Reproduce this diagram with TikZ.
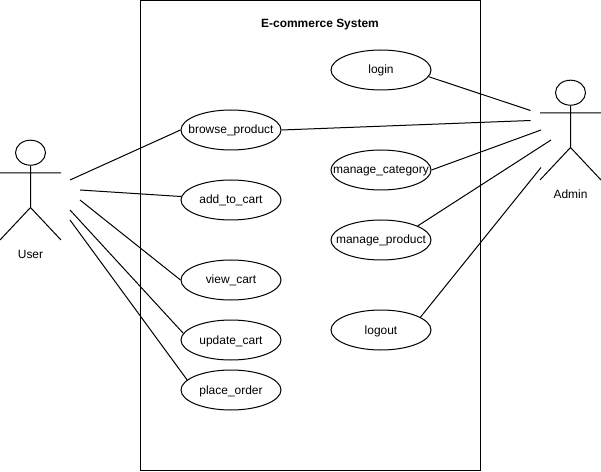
\documentclass[tikz,border=0pt]{standalone}
\usepackage{fontspec}
\setmainfont{Liberation Sans}
\usetikzlibrary{shapes.geometric}
\tikzset{
 uc/.style={draw,ellipse,minimum width=100bp,minimum height=40bp,inner xsep=-16bp,inner ysep=0pt,text height=10bp,text depth=2bp,font=\fontsize{12}{14}\selectfont},
 lbl/.style={font=\fontsize{12}{14}\selectfont,inner sep=0pt},
 ttl/.style={font=\fontsize{12}{14}\selectfont\bfseries,inner sep=0pt},
 head/.style={draw,ellipse,minimum width=30bp,minimum height=25bp,inner sep=0pt}
}
\begin{document}
\begin{tikzpicture}[x=1bp,y=-1bp,line width=1bp]
\useasboundingbox (0,0) rectangle (601,472);
\draw (140.5,0.5) rectangle (480.5,470);
\node[ttl] (title) at (320,25) {E-commerce System};
\node[uc] (login) at (381,70) {login};
\node[uc] (browse) at (231,130) {browse\_product};
\node[uc] (cat) at (381,170) {manage\_category};
\node[uc] (cart) at (231,200) {add\_to\_cart};
\node[uc] (prod) at (381,240) {manage\_product};
\node[uc] (view) at (231,280) {view\_cart};
\node[uc] (logout) at (381,330) {logout};
\node[uc] (update) at (231,340) {update\_cart};
\node[uc] (place) at (231,390) {place\_order};
% User
\node[head] (uh) at (30.5,152.7) {};
\coordinate (ub) at (30.5,207.5);
\coordinate (ual) at (0,173);
\coordinate (uar) at (61,173);
\coordinate (ull) at (0,240);
\coordinate (ulr) at (61,240);
\draw (uh.south) -- (ub) (ual) -- (uar) (ub) -- (ull) (ub) -- (ulr);
\node[lbl] (user) at (30.5,254) {User};
% Admin
\node[head] (ah) at (570.5,92.7) {};
\coordinate (ab) at (570.5,147.5);
\coordinate (aal) at (540,113);
\coordinate (aar) at (601,113);
\coordinate (all) at (540,180);
\coordinate (alr) at (601,180);
\draw (ah.south) -- (ab) (aal) -- (aar) (ab) -- (all) (ab) -- (alr);
\node[lbl] (admin) at (570.5,194) {Admin};
% connectors
\coordinate (u1) at (70,180);
\coordinate (u2) at (80,190);
\coordinate (u3) at (80,200);
\coordinate (u4) at (70,210);
\coordinate (u5) at (70,220);
\draw (u1) -- (browse.west);
\draw (u2) -- (cart.176);
\draw (u3) -- (view.west);
\draw (u4) -- (update.172);
\draw (u5) -- (place.167);
\coordinate (a1) at (530.5,110.5);
\coordinate (a2) at (530.5,120.5);
\coordinate (a3) at (541,130);
\coordinate (a4) at (551,140);
\coordinate (a5) at (541,167.5);
\draw (login.-8) -- (a1);
\draw (browse.east) -- (a2);
\draw (cat.east) -- (a3);
\draw (prod.21) -- (a4);
\draw (logout.18) -- (a5);
\end{tikzpicture}
\end{document}
